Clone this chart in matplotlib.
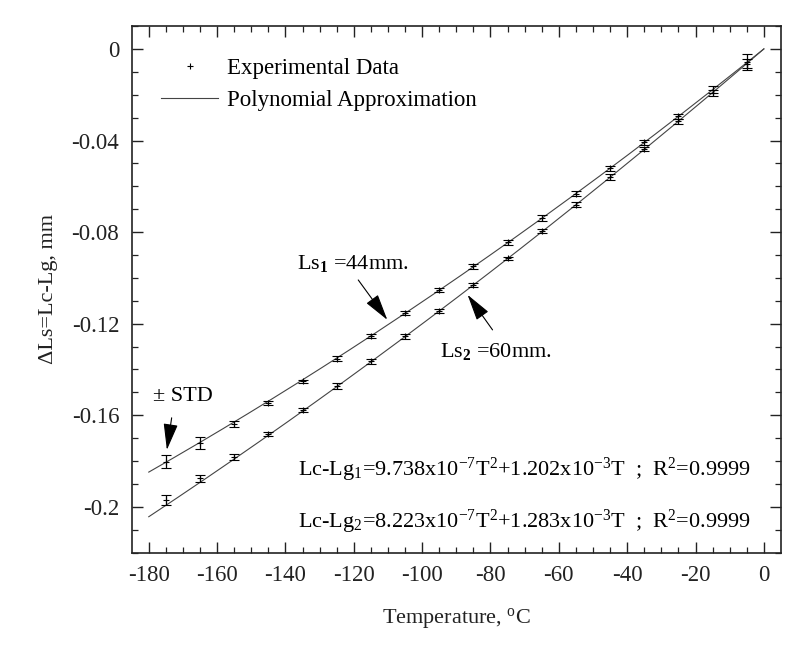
import numpy as np
import matplotlib
matplotlib.use("Agg")
import matplotlib.pyplot as plt
from matplotlib.lines import Line2D

plt.rcParams['font.family'] = ['Liberation Serif', 'DejaVu Serif']
plt.rcParams['mathtext.fontset'] = 'custom'
plt.rcParams['mathtext.rm'] = 'Liberation Serif'
plt.rcParams['mathtext.it'] = 'Liberation Serif'
plt.rcParams['mathtext.bf'] = 'Liberation Serif:bold'

# measurement temperatures, deg C
temps = [-175, -165, -155, -145, -135, -125, -115, -105, -95,
         -85, -75, -65, -55, -45, -35, -25, -15, -5]

# Ls1 = 44 mm
dls1 = [-0.1802, -0.1722, -0.1640, -0.1546, -0.1452, -0.1352, -0.1255, -0.1153, -0.1052,
        -0.0950, -0.0845, -0.0738, -0.0632, -0.0522, -0.0408, -0.0295, -0.0178, -0.0058]
std1 = [0.0027, 0.0026, 0.0013, 0.0008, 0.0007, 0.0010, 0.0008, 0.0010, 0.0010,
        0.0009, 0.0010, 0.0012, 0.0012, 0.0010, 0.0010, 0.0012, 0.0016, 0.0034]

# Ls2 = 60 mm
dls2 = [-0.1970, -0.1876, -0.1783, -0.1681, -0.1576, -0.1472, -0.1365, -0.1255, -0.1146,
        -0.1030, -0.0915, -0.0797, -0.0680, -0.0560, -0.0438, -0.0316, -0.0192, -0.0064]
std2 = [0.0020, 0.0016, 0.0012, 0.0010, 0.0010, 0.0012, 0.0010, 0.0010, 0.0008,
        0.0008, 0.0008, 0.0009, 0.0012, 0.0012, 0.0010, 0.0010, 0.0012, 0.0020]

# polynomial fits as printed on the chart (T^2, T, const)
fit1 = [9.738e-7, 1.202e-3, 0.0]
fit2 = [8.223e-7, 1.283e-3, 0.0]
fit_range = (-180, 0)

fig = plt.figure(figsize=(8, 6.55), dpi=100)
ax = fig.add_axes([0.1646, 0.1562, 0.8116, 0.8041])

tt = np.linspace(fit_range[0], fit_range[1], 200)
ax.plot(tt, np.polyval(fit1, tt), color='#444444', lw=0.8)
ax.plot(tt, np.polyval(fit2, tt), color='#444444', lw=0.8)

eb_kw = dict(fmt='+', color='black', ms=5, mew=0.8, capsize=3.5,
             elinewidth=0.9, capthick=0.9)
ax.errorbar(temps, dls1, yerr=std1, **eb_kw)
ax.errorbar(temps, dls2, yerr=std2, **eb_kw)

ax.set_xlim(-185, 5)
ax.set_ylim(-0.22, 0.01)
ax.set_xticks(np.arange(-180, 1, 20))
ax.set_xticks(np.arange(-180, 1, 5), minor=True)
ax.set_yticks([-0.2, -0.16, -0.12, -0.08, -0.04, 0])
ax.set_yticklabels(['-0.2', '-0.16', '-0.12', '-0.08', '-0.04', '0'])
ax.set_xticklabels([str(v) for v in range(-180, 1, 20)])
ax.set_yticks(np.arange(-0.22, 0.011, 0.01), minor=True)
ax.tick_params(which='both', direction='in', top=True, right=True,
               labelsize=16.5, colors='#222222', pad=9)
ax.tick_params(which='major', length=8, width=1.0)
ax.tick_params(which='minor', length=4, width=0.9)
for sp in ax.spines.values():
    sp.set_linewidth(1.2)
    sp.set_color('#222222')

ax.set_xlabel('Temperature, $^{\\mathrm{o}}$C', fontsize=16, color='#222222', labelpad=14)
ax.set_ylabel('\u0394Ls=Lc-Lg, mm', fontsize=16, color='#222222', labelpad=10)

handles = [Line2D([], [], ls='none', marker='+', color='black', ms=5, mew=0.8),
           Line2D([], [], color='#444444', lw=0.8)]
ax.legend(handles, ['Experimental Data', 'Polynomial Approximation'],
          loc='upper left', bbox_to_anchor=(0.045, 0.94), frameon=False,
          fontsize=16.5, handlelength=2.5, handletextpad=0.4, labelspacing=0.5,
          borderpad=0, borderaxespad=0)

arrow = dict(arrowstyle='-|>,head_length=1.1,head_width=0.3', color='black',
             lw=0.8, mutation_scale=15, shrinkA=0, shrinkB=0)
ax.annotate('', xy=(-110.2, -0.1183), xytext=(-118.7, -0.1009), arrowprops=arrow)
ax.annotate('', xy=(-86.7, -0.1074), xytext=(-79.4, -0.1227), arrowprops=arrow)
ax.annotate('', xy=(-174.7, -0.1751), xytext=(-173.3, -0.1611), arrowprops=arrow)

ax.text(-136.6, -0.0935, 'Ls$_{\\mathbf{1}}$ =44mm.', fontsize=16, va='center')
ax.text(-94.7, -0.1323, 'Ls$_{\\mathbf{2}}$ =60mm.', fontsize=16, va='center')
ax.text(-178.8, -0.152, '\u00b1 STD', fontsize=16, va='center')

ax.text(-136.3, -0.1838,
        'Lc-Lg$_1$=9.738x10$^{-7}$T$^2$+1.202x10$^{-3}$T  ;  R$^2$=0.9999',
        fontsize=16, va='center')
ax.text(-136.3, -0.2066,
        'Lc-Lg$_2$=8.223x10$^{-7}$T$^2$+1.283x10$^{-3}$T  ;  R$^2$=0.9999',
        fontsize=16, va='center')

fig.savefig('out.png', dpi=100)
